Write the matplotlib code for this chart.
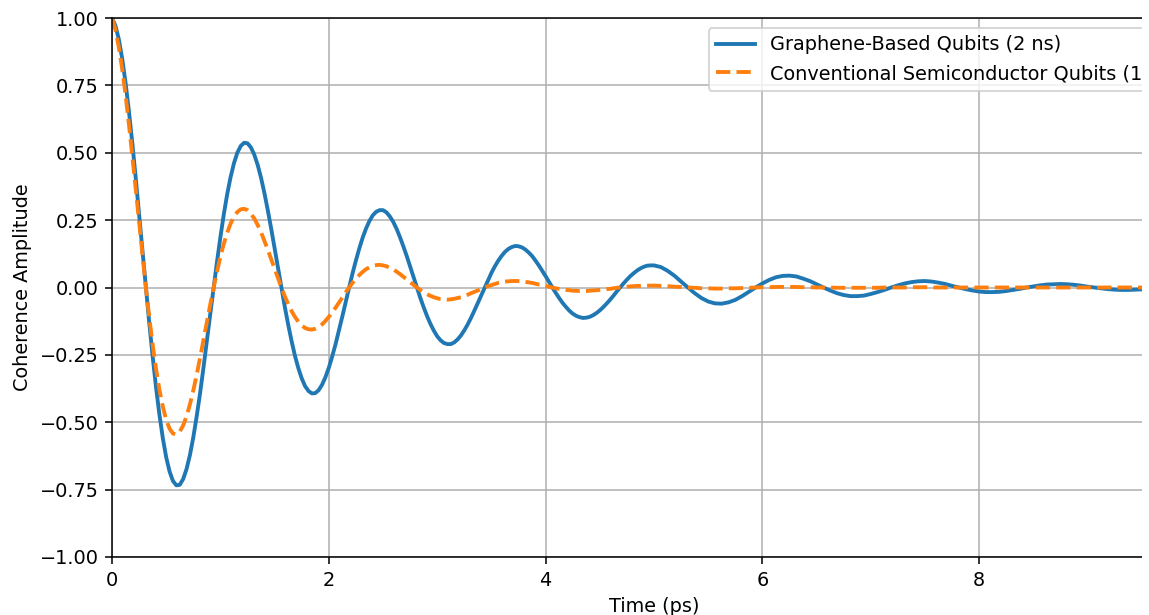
import numpy as np
import matplotlib
matplotlib.use("Agg")
import matplotlib.pyplot as plt
from matplotlib.patches import Rectangle

# tiempos de muestreo (ps): rejilla cada 1/16 ps y puntos intermedios hasta 5 ps
tiempo_rejilla = np.linspace(0, 10, 161)
tiempo_medio = np.linspace(1 / 32, 5 - 1 / 32, 80)

# amplitud de coherencia, sobre la rejilla
grafeno = [
    1.000, 0.922, 0.760, 0.535, 0.273, 0.000, -0.256, -0.472, -0.630, -0.718, -0.732, -0.674, -0.556, -0.392, -0.200, 0.000,
    0.187, 0.346, 0.461, 0.525, 0.535, 0.493, 0.407, 0.286, 0.146, 0.000, -0.137, -0.253, -0.337, -0.384, -0.392, -0.361,
    -0.298, -0.210, -0.107, 0.000, 0.100, 0.185, 0.247, 0.281, 0.287, 0.264, 0.218, 0.153, 0.078, 0.000, -0.073, -0.135,
    -0.181, -0.206, -0.210, -0.193, -0.159, -0.112, -0.057, 0.000, 0.054, 0.099, 0.132, 0.150, 0.153, 0.141, 0.117, 0.082,
    0.042, 0.000, -0.039, -0.072, -0.097, -0.110, -0.112, -0.103, -0.085, -0.060, -0.031, 0.000, 0.029, 0.053, 0.071, 0.081,
    0.082, 0.076, 0.062, 0.044, 0.022, 0.000, -0.021, -0.039, -0.052, -0.059, -0.060, -0.055, -0.046, -0.032, -0.016, 0.000,
    0.015, 0.028, 0.038, 0.043, 0.044, 0.041, 0.033, 0.024, 0.012, 0.000, -0.011, -0.021, -0.028, -0.032, -0.032, -0.030,
    -0.024, -0.017, -0.009, 0.000, 0.008, 0.015, 0.020, 0.023, 0.024, 0.022, 0.018, 0.013, 0.006, 0.000, -0.006, -0.011,
    -0.015, -0.017, -0.017, -0.016, -0.013, -0.009, -0.005, 0.000, 0.004, 0.008, 0.011, 0.012, 0.013, 0.012, 0.010, 0.007,
    0.003, 0.000, -0.003, -0.006, -0.008, -0.009, -0.009, -0.008, -0.007, -0.005, -0.003, 0.000, 0.002, 0.004, 0.006, 0.007,
    0.007,
]

convencional = [
    1.000, 0.893, 0.714, 0.487, 0.241, 0.000, -0.212, -0.380, -0.491, -0.542, -0.535, -0.478, -0.382, -0.261, -0.129, 0.000,
    0.114, 0.203, 0.263, 0.290, 0.287, 0.256, 0.205, 0.140, 0.069, 0.000, -0.061, -0.109, -0.141, -0.155, -0.153, -0.137,
    -0.109, -0.075, -0.037, 0.000, 0.033, 0.058, 0.075, 0.083, 0.082, 0.073, 0.059, 0.040, 0.020, 0.000, -0.017, -0.031,
    -0.040, -0.044, -0.044, -0.039, -0.031, -0.021, -0.011, 0.000, 0.009, 0.017, 0.022, 0.024, 0.024, 0.021, 0.017, 0.011,
    0.006, 0.000, -0.005, -0.009, -0.012, -0.013, -0.013, -0.011, -0.009, -0.006, -0.003, 0.000, 0.003, 0.005, 0.006, 0.007,
    0.007, 0.006, 0.005, 0.003, 0.002, 0.000, -0.001, -0.003, -0.003, -0.004, -0.004, -0.003, -0.003, -0.002, -0.001, 0.000,
    0.001, 0.001, 0.002, 0.002, 0.002, 0.002, 0.001, 0.001, 0.000, 0.000, 0.000, -0.001, -0.001, -0.001, -0.001, -0.001,
    -0.001, -0.001, 0.000, 0.000, 0.000, 0.000, 0.001, 0.001, 0.001, 0.000, 0.000, 0.000, 0.000, 0.000, 0.000, 0.000,
    0.000, 0.000, 0.000, 0.000, 0.000, 0.000, 0.000, 0.000, 0.000, 0.000, 0.000, 0.000, 0.000, 0.000, 0.000, 0.000,
    0.000, 0.000, 0.000, 0.000, 0.000, 0.000, 0.000, 0.000, 0.000, 0.000, 0.000, 0.000, 0.000, 0.000, 0.000, 0.000,
    0.000,
]

# valores en los puntos intermedios (primeros 5 ps, donde la curva cambia rapido)
grafeno_medio = [
    0.972, 0.850, 0.654, 0.407, 0.136, -0.132, -0.371, -0.559, -0.683, -0.734,
    -0.711, -0.622, -0.478, -0.298, -0.099, 0.096, 0.271, 0.409, 0.500, 0.537,
    0.520, 0.455, 0.350, 0.218, 0.073, -0.071, -0.198, -0.299, -0.366, -0.393,
    -0.381, -0.333, -0.256, -0.159, -0.053, 0.052, 0.145, 0.219, 0.268, 0.287,
    0.279, 0.244, 0.187, 0.117, 0.039, -0.038, -0.106, -0.160, -0.196, -0.210,
    -0.204, -0.178, -0.137, -0.085, -0.028, 0.028, 0.078, 0.117, 0.143, 0.154,
    0.149, 0.130, 0.100, 0.062, 0.021, -0.020, -0.057, -0.086, -0.105, -0.113,
    -0.109, -0.095, -0.073, -0.046, -0.015, 0.015, 0.042, 0.063, 0.077, 0.082,
]

convencional_medio = [
    0.957, 0.811, 0.605, 0.365, 0.118, -0.111, -0.302, -0.442, -0.524, -0.545,
    -0.512, -0.434, -0.324, -0.195, -0.063, 0.059, 0.162, 0.237, 0.280, 0.292,
    0.274, 0.232, 0.173, 0.105, 0.034, -0.032, -0.087, -0.127, -0.150, -0.156,
    -0.147, -0.124, -0.093, -0.056, -0.018, 0.017, 0.046, 0.068, 0.080, 0.084,
    0.079, 0.067, 0.050, 0.030, 0.010, -0.009, -0.025, -0.036, -0.043, -0.045,
    -0.042, -0.036, -0.027, -0.016, -0.005, 0.005, 0.013, 0.019, 0.023, 0.024,
    0.023, 0.019, 0.014, 0.009, 0.003, -0.003, -0.007, -0.010, -0.012, -0.013,
    -0.012, -0.010, -0.008, -0.005, -0.001, 0.001, 0.004, 0.006, 0.007, 0.007,
]

etiquetas = ["Graphene-Based Qubits (2 ns)", "Conventional Semiconductor Qubits (1 ns)"]

# juntar rejilla + intermedios y ordenar por tiempo
t = np.concatenate([tiempo_rejilla, tiempo_medio])
orden = np.argsort(t)
t = t[orden]
y_graf = np.concatenate([grafeno, grafeno_medio])[orden]
y_conv = np.concatenate([convencional, convencional_medio])[orden]

dpi = 139
fig = plt.figure(figsize=(1149 / dpi, 615 / dpi), dpi=dpi)
# la figura original esta recortada: el eje sigue mas alla del borde derecho
ax = fig.add_axes([112 / 1149, 58 / 615, 1084 / 1149, 539 / 615])

ax.plot(t, y_graf, color="#1f77b4", linewidth=2, label=etiquetas[0])
ax.plot(t, y_conv, color="#ff7f0e", linewidth=2, linestyle="--", label=etiquetas[1])

ax.set_xlim(0, 10)
ax.set_ylim(-1, 1)
ax.set_xlabel("Time (ps)")
ax.set_ylabel("Coherence Amplitude")
ax.legend(loc="upper right")
ax.grid(True)

# franja blanca del borde derecho, como en la imagen original
fig.add_artist(Rectangle((1142 / 1149, 0), 1, 1, transform=fig.transFigure,
                         facecolor="white", edgecolor="none", zorder=10))

fig.savefig("out.png", dpi=dpi)
plt.close(fig)
